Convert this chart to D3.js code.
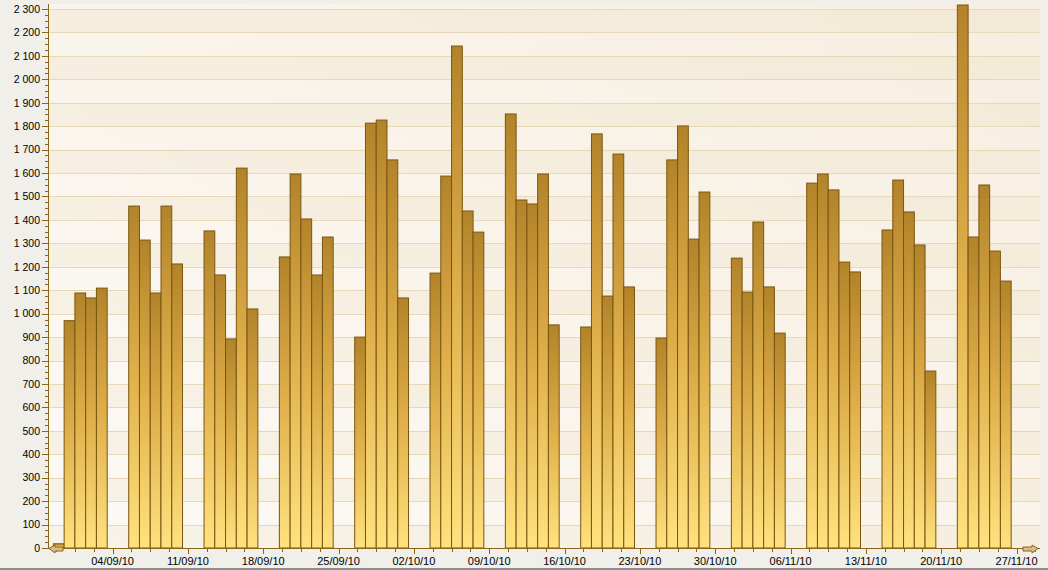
<!DOCTYPE html>
<html>
<head>
<meta charset="utf-8">
<script src="https://cdn.jsdelivr.net/npm/d3@7"></script>
<style>
  html, body { margin: 0; padding: 0; background: #f1efe9; }
  svg { display: block; }
  text { font-family: "Liberation Sans", Arial, sans-serif; fill: #000; }
</style>
</head>
<body>
<svg id="chart" width="1048" height="570"></svg>
<script>
// ---- data ----
const dates = [
  "2010-08-30","2010-08-31","2010-09-01","2010-09-02","2010-09-03",
  "2010-09-06","2010-09-07","2010-09-08","2010-09-09","2010-09-10",
  "2010-09-13","2010-09-14","2010-09-15","2010-09-16","2010-09-17",
  "2010-09-20","2010-09-21","2010-09-22","2010-09-23","2010-09-24",
  "2010-09-27","2010-09-28","2010-09-29","2010-09-30","2010-10-01",
  "2010-10-04","2010-10-05","2010-10-06","2010-10-07","2010-10-08",
  "2010-10-11","2010-10-12","2010-10-13","2010-10-14","2010-10-15",
  "2010-10-18","2010-10-19","2010-10-20","2010-10-21","2010-10-22",
  "2010-10-25","2010-10-26","2010-10-27","2010-10-28","2010-10-29",
  "2010-11-01","2010-11-02","2010-11-03","2010-11-04","2010-11-05",
  "2010-11-08","2010-11-09","2010-11-10","2010-11-11","2010-11-12",
  "2010-11-15","2010-11-16","2010-11-17","2010-11-18","2010-11-19",
  "2010-11-22","2010-11-23","2010-11-24","2010-11-25","2010-11-26"
];
const values = [
  18, 970, 1088, 1067, 1109,
  1459, 1314, 1088, 1459, 1212,
  1353, 1165, 892, 1621, 1020,
  1242, 1596, 1404, 1165, 1327,
  900, 1813, 1826, 1656, 1067,
  1173, 1587, 2142, 1438, 1348,
  1852, 1485, 1468, 1596, 952,
  943, 1767, 1075, 1681, 1114,
  896, 1656, 1801, 1318, 1519,
  1237, 1092, 1391, 1114, 917,
  1557, 1596, 1528, 1220, 1178,
  1357, 1570, 1434, 1293, 755,
  2317, 1327, 1549, 1267, 1139
];
const xTickLabels = ["04/09/10","11/09/10","18/09/10","25/09/10","02/10/10","09/10/10",
  "16/10/10","23/10/10","30/10/10","06/11/10","13/11/10","20/11/10","27/11/10"];
const yMax = 2300;
const yStep = 100;
const yMinorStep = 25;

// ---- layout ----
const svg = d3.select("#chart");
const W = 1048, H = 570;
const plot = { left: 48, right: 1040, top: 4, bottom: 548 };
const DAY = 864e5;
const parse = d3.utcParse("%Y-%m-%d");
const parseLbl = d3.utcParse("%d/%m/%y");
const data = dates.map((d, i) => ({ date: parse(d), value: values[i] }));

const t0 = new Date(Date.UTC(2010, 7, 29, 12));
const t1 = new Date(t0.getTime() + 92.18 * DAY);
const x = d3.scaleUtc().domain([t0, t1]).range([plot.left, plot.right]);
const y = d3.scaleLinear().domain([0, yMax]).range([plot.bottom, 9]);

const defs = svg.append("defs");
const bg = defs.append("linearGradient").attr("id", "bgGrad")
  .attr("x1", 0).attr("y1", 1).attr("x2", 1).attr("y2", 0);
bg.append("stop").attr("offset", 0).attr("stop-color", "#fcfaf6");
bg.append("stop").attr("offset", 1).attr("stop-color", "#f7eee0");

const bar = defs.append("linearGradient").attr("id", "barGrad")
  .attr("x1", 0).attr("y1", 0).attr("x2", 0).attr("y2", 1);
bar.append("stop").attr("offset", 0).attr("stop-color", "#b3832a");
bar.append("stop").attr("offset", 0.5).attr("stop-color", "#e0b04b");
bar.append("stop").attr("offset", 1).attr("stop-color", "#ffe27f");

// outer background
svg.append("rect").attr("width", W).attr("height", H).attr("fill", "#f1efe9");
svg.append("rect").attr("x", 0).attr("y", H - 2).attr("width", W).attr("height", 2).attr("fill", "#8c8c8c");

// plot background
svg.append("rect")
  .attr("x", plot.left).attr("y", plot.top)
  .attr("width", plot.right - plot.left).attr("height", plot.bottom - plot.top)
  .attr("fill", "url(#bgGrad)");

// interlaced stripes
const stripes = d3.range(0, yMax, yStep * 2);
svg.append("g").selectAll("rect").data(stripes).join("rect")
  .attr("x", plot.left).attr("width", plot.right - plot.left)
  .attr("y", d => y(d + yStep)).attr("height", d => y(d) - y(d + yStep))
  .attr("fill", "#ead9b8").attr("opacity", 0.22);

// gridlines
const yTicks = d3.range(0, yMax + 1, yStep);
svg.append("g").selectAll("line").data(yTicks.filter(d => d > 0)).join("line")
  .attr("x1", plot.left).attr("x2", plot.right)
  .attr("y1", d => Math.round(y(d)) + 0.5).attr("y2", d => Math.round(y(d)) + 0.5)
  .attr("stroke", "#e6d8b8").attr("stroke-width", 1);

// bars
svg.append("g").selectAll("rect").data(data).join("rect")
  .attr("x", d => x(d.date))
  .attr("width", d => x(new Date(d.date.getTime() + DAY)) - x(d.date))
  .attr("y", d => y(d.value))
  .attr("height", d => y(0) - y(d.value))
  .attr("fill", "url(#barGrad)")
  .attr("stroke", "#7a5610").attr("stroke-width", 1);

// y axis
const fmt = d3.formatLocale({ decimal: ",", thousands: " ", grouping: [3], currency: ["", ""] }).format(",d");
const axisColor = "#8a6718";
const yAxis = svg.append("g");
yAxis.append("line").attr("x1", plot.left + 0.5).attr("x2", plot.left + 0.5)
  .attr("y1", plot.top).attr("y2", plot.bottom).attr("stroke", axisColor);
const yMinor = d3.range(0, yMax + 1, yMinorStep).filter(d => d % yStep !== 0);
yAxis.selectAll("line.minor").data(yMinor).join("line").attr("class", "minor")
  .attr("x1", plot.left - 3).attr("x2", plot.left)
  .attr("y1", d => Math.round(y(d)) + 0.5).attr("y2", d => Math.round(y(d)) + 0.5)
  .attr("stroke", axisColor);
yAxis.selectAll("line.major").data(yTicks).join("line").attr("class", "major")
  .attr("x1", plot.left - 6).attr("x2", plot.left)
  .attr("y1", d => Math.round(y(d)) + 0.5).attr("y2", d => Math.round(y(d)) + 0.5)
  .attr("stroke", axisColor);
yAxis.selectAll("text").data(yTicks).join("text")
  .attr("x", 40).attr("y", d => y(d)).attr("dy", "0.36em")
  .attr("text-anchor", "end").attr("font-size", "10.5px")
  .text(d => fmt(d));

// x axis
const xAxis = svg.append("g");
xAxis.append("line").attr("x1", plot.left).attr("x2", plot.right)
  .attr("y1", plot.bottom + 0.5).attr("y2", plot.bottom + 0.5).attr("stroke", axisColor);
const majorTicks = xTickLabels.map(l => new Date(parseLbl(l).getTime() + DAY / 2));
const minorStep = 1.75 * DAY;
const minorTicks = [];
for (let t = majorTicks[0].getTime(); t >= t0.getTime(); t -= minorStep) minorTicks.push(new Date(t));
for (let t = majorTicks[0].getTime() + minorStep; t <= t1.getTime(); t += minorStep) minorTicks.push(new Date(t));
xAxis.selectAll("line.minor").data(minorTicks).join("line").attr("class", "minor")
  .attr("x1", d => Math.round(x(d)) + 0.5).attr("x2", d => Math.round(x(d)) + 0.5)
  .attr("y1", plot.bottom).attr("y2", plot.bottom + 4).attr("stroke", axisColor);
xAxis.selectAll("line.major").data(majorTicks).join("line").attr("class", "major")
  .attr("x1", d => Math.round(x(d)) + 0.5).attr("x2", d => Math.round(x(d)) + 0.5)
  .attr("y1", plot.bottom).attr("y2", plot.bottom + 6).attr("stroke", axisColor);
xAxis.selectAll("text").data(majorTicks).join("text")
  .attr("x", d => x(d)).attr("y", 565)
  .attr("text-anchor", "middle").attr("font-size", "11px")
  .text((d, i) => xTickLabels[i]);

// axis arrows
const arrowFill = "#d9bc8c";
const ay = plot.bottom + 0.5;
svg.append("path")
  .attr("d", `M${plot.left + 1},${ay} L${plot.left + 7},${ay - 3.5} L${plot.left + 7},${ay - 1.5} L${plot.left + 15},${ay - 1.5} L${plot.left + 15},${ay + 2.5} L${plot.left + 7},${ay + 2.5} L${plot.left + 7},${ay + 4.5} Z`)
  .attr("fill", arrowFill).attr("stroke", axisColor).attr("stroke-width", 1);
const rx = 1038;
svg.append("path")
  .attr("d", `M${rx},${ay} L${rx - 6},${ay - 3.5} L${rx - 6},${ay - 1.5} L${rx - 15},${ay - 1.5} L${rx - 15},${ay + 2.5} L${rx - 6},${ay + 2.5} L${rx - 6},${ay + 4.5} Z`)
  .attr("fill", arrowFill).attr("stroke", axisColor).attr("stroke-width", 1);
</script>
</body>
</html>
